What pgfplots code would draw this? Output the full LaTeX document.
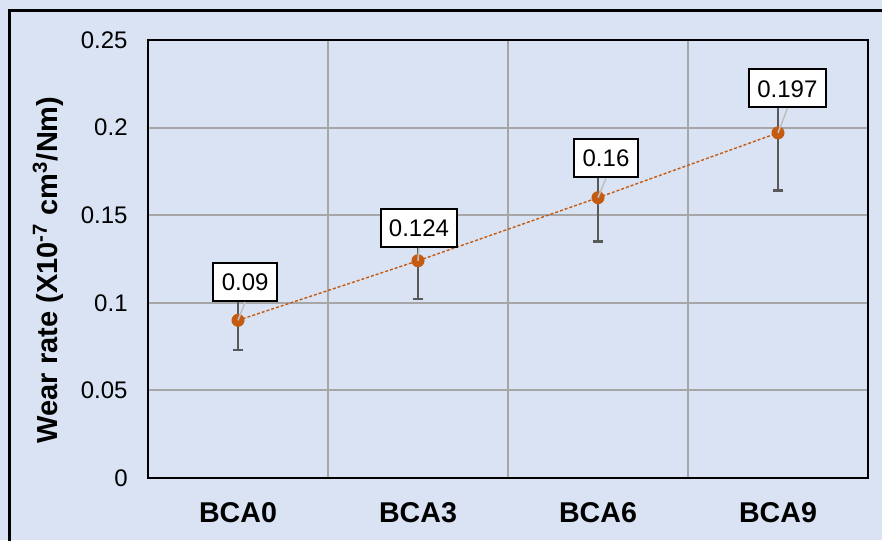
\documentclass[border=0pt]{standalone}
\usepackage{fontspec}
\setmainfont{Liberation Sans}
\usepackage{pgfplots}
\usepackage{pgfplotstable}
\pgfplotsset{compat=1.18}

\definecolor{panel}{HTML}{DAE3F3}
\definecolor{ptorange}{HTML}{C55A11}
\definecolor{errgrey}{HTML}{595959}
\definecolor{gridgrey}{HTML}{A6A6A6}
\definecolor{leadgrey}{HTML}{BFBFBF}

% wear rate per sample, label box offset (pt)
\pgfplotstableread{
x  y      dx   dy
0  0.09   3.6  9.2
1  0.124  0.5  6.4
2  0.16   4.0  9.7
3  0.197  4.7  12.2
}\weardata

% error bar ends (mean -/+ deviation); nan breaks the bars apart
\pgfplotstableread{
x    e
0    0.073
0    0.107
nan  nan
1    0.102
1    0.146
nan  nan
2    0.135
2    0.185
nan  nan
3    0.164
3    0.230
}\errbars

\begin{document}
\begin{tikzpicture}
\fill[panel] (0,0) rectangle (441pt,270pt);
\useasboundingbox (0,0) rectangle (441pt,270pt);
\begin{axis}[
  at={(74pt,31pt)}, anchor=south west,
  scale only axis, width=360pt, height=219pt,
  xmin=-0.5, xmax=3.5, ymin=0, ymax=0.25,
  xtick={0,1,2,3}, xticklabels={BCA0,BCA3,BCA6,BCA9},
  minor xtick={0.5,1.5,2.5},
  ytick={0,0.05,0.1,0.15,0.2,0.25},
  ymajorgrids, xminorgrids,
  grid style={gridgrey, line width=1pt},
  minor grid style={gridgrey, line width=1pt},
  major tick length=0pt, minor tick length=0pt,
  axis line style={black, line width=1pt},
  axis background/.style={fill=panel},
  unbounded coords=jump,
  /pgf/number format/assume math mode=true,
  /pgf/number format/fixed,
  yticklabel style={font=\fontsize{12}{14}\selectfont, text=black,
    inner sep=0pt, anchor=east, xshift=-10pt},
  xticklabel style={font=\bfseries\fontsize{14.3}{16}\selectfont, text=black,
    inner sep=0pt, anchor=north, yshift=-12pt},
  ylabel={Wear rate (X10\textsuperscript{-7} cm\textsuperscript{3}/Nm)},
  ylabel style={at={(axis description cs:-0.1389,0.475)}, anchor=center,
    font=\bfseries\fontsize{14.5}{16}\selectfont},
]
% error bars with end caps (upper half sits under the value boxes)
\addplot[errgrey, line width=1.2pt, mark=-, mark size=2.6pt,
  mark options={errgrey, line width=1.2pt}, forget plot]
  table[x=x, y=e]{\errbars};
% trend line with markers
\addplot[ptorange, line width=0.7pt, dash pattern=on 1.5pt off 1pt,
  mark=*, mark size=2.9pt, mark options={solid, fill=ptorange, draw=ptorange}]
  table[x=x, y=y]{\weardata};
% value boxes with leader lines
\addplot[draw=none, mark=none,
  nodes near coords, point meta=explicit symbolic,
  visualization depends on={\thisrow{dx} \as \dx},
  visualization depends on={\thisrow{dy} \as \dy},
  nodes near coords style={anchor=south, xshift=\dx pt, yshift=\dy pt,
    draw=black, line width=1pt, fill=white, text=black,
    inner xsep=4.2pt, inner ysep=5.2pt, text height=8.6pt, text depth=0pt,
    font=\fontsize{12}{14}\selectfont,
    append after command={(\tikzlastnode.south) edge[leadgrey, line width=0.8pt] ++(-\dx pt,-\dy pt)}}]
  table[x=x, y=y, meta=y]{\weardata};
\end{axis}
\draw[black, line width=1.5pt] (4.75pt,-10pt) -- (4.75pt,264.5pt) -- (460pt,264.5pt);
\end{tikzpicture}
\end{document}
